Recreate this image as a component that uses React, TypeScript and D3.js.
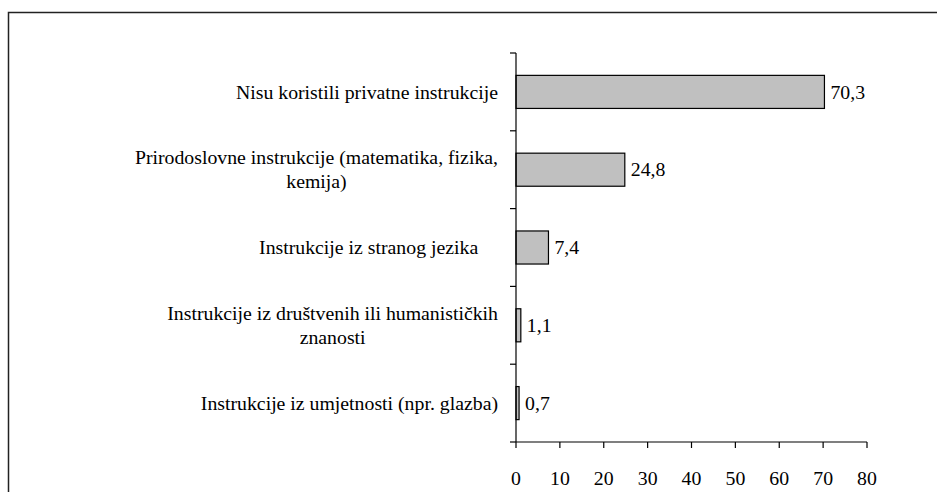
import React from "react";
import * as d3 from "d3";

const categories: string[][] = [
  ["Nisu koristili privatne instrukcije"],
  ["Prirodoslovne instrukcije (matematika, fizika,", "kemija)"],
  ["Instrukcije iz stranog jezika    "],
  ["Instrukcije iz društvenih ili humanističkih", "znanosti"],
  ["Instrukcije iz umjetnosti (npr. glazba)"],
];
const values: number[] = [70.3, 24.8, 7.4, 1.1, 0.7];
const xTicks: number[] = [0, 10, 20, 30, 40, 50, 60, 70, 80];

const W = 937;
const H = 492;
const FONT = "Liberation Serif";
const FS = 19.8;

let ctx: CanvasRenderingContext2D | null = null;
function measure(t: string): number {
  if (!ctx) {
    const c = document.createElement("canvas");
    ctx = c.getContext("2d");
  }
  if (!ctx) return t.length * FS * 0.42;
  ctx.font = FS + "px Liberation Serif";
  return ctx.measureText(t).width;
}

export default function App() {
  const x = d3.scaleLinear().domain([0, 80]).range([516, 867]);
  const idx = categories.map((_, i) => String(i));
  const y = d3.scaleBand().domain(idx).range([53, 442]).padding(0);
  const bw = y.bandwidth();
  const barH = bw * 0.425;
  const fmt = (v: number) => d3.format(".1f")(v).replace(".", ",");
  const labelRight = 498;
  const lineH = 24;

  return (
    <svg width={W} height={H} style={{ position: "absolute", left: 0, top: 0, background: "#fff" }}>
      <rect x={8.5} y={12.5} width={W} height={H} fill="#fff" stroke="#222" strokeWidth={1.5} />
      {values.map((v, i) => {
        const cy = (y(String(i)) as number) + bw / 2;
        return (
          <g key={i}>
            <rect
              x={x(0)}
              y={cy - barH / 2}
              width={x(v) - x(0)}
              height={barH}
              fill="#c0c0c0"
              stroke="#000"
              strokeWidth={1.2}
            />
            <text x={x(v) + 6} y={cy + FS * 0.34} fill="#000" fontFamily={FONT} fontSize={FS}>
              {fmt(v)}
            </text>
          </g>
        );
      })}
      <line x1={x(0)} x2={x(0)} y1={53} y2={442} stroke="#000" strokeWidth={1.2} />
      {d3.range(categories.length + 1).map((i) => {
        const yy = 53 + i * bw;
        return <line key={i} x1={x(0) - 6} x2={x(0)} y1={yy} y2={yy} stroke="#000" strokeWidth={1.2} />;
      })}
      <line x1={x(0)} x2={x(80)} y1={442} y2={442} stroke="#000" strokeWidth={1.2} />
      {xTicks.map((t) => (
        <g key={t}>
          <line x1={x(t)} x2={x(t)} y1={442} y2={448} stroke="#000" strokeWidth={1.2} />
          <text x={x(t)} y={485} textAnchor="middle" fill="#000" fontFamily={FONT} fontSize={FS}>
            {t}
          </text>
        </g>
      ))}
      {categories.map((lines, i) => {
        const cy = (y(String(i)) as number) + bw / 2;
        const widths = lines.map((l) => measure(l));
        const maxW = Math.max(...widths);
        const cx = labelRight - maxW / 2;
        const y0 = cy - ((lines.length - 1) * lineH) / 2 + FS * 0.34;
        return (
          <text key={i} textAnchor="middle" fill="#000" fontFamily={FONT} fontSize={FS} xmlSpace="preserve">
            {lines.map((l, j) => (
              <tspan key={j} x={cx} y={y0 + j * lineH}>
                {l}
              </tspan>
            ))}
          </text>
        );
      })}
    </svg>
  );
}
